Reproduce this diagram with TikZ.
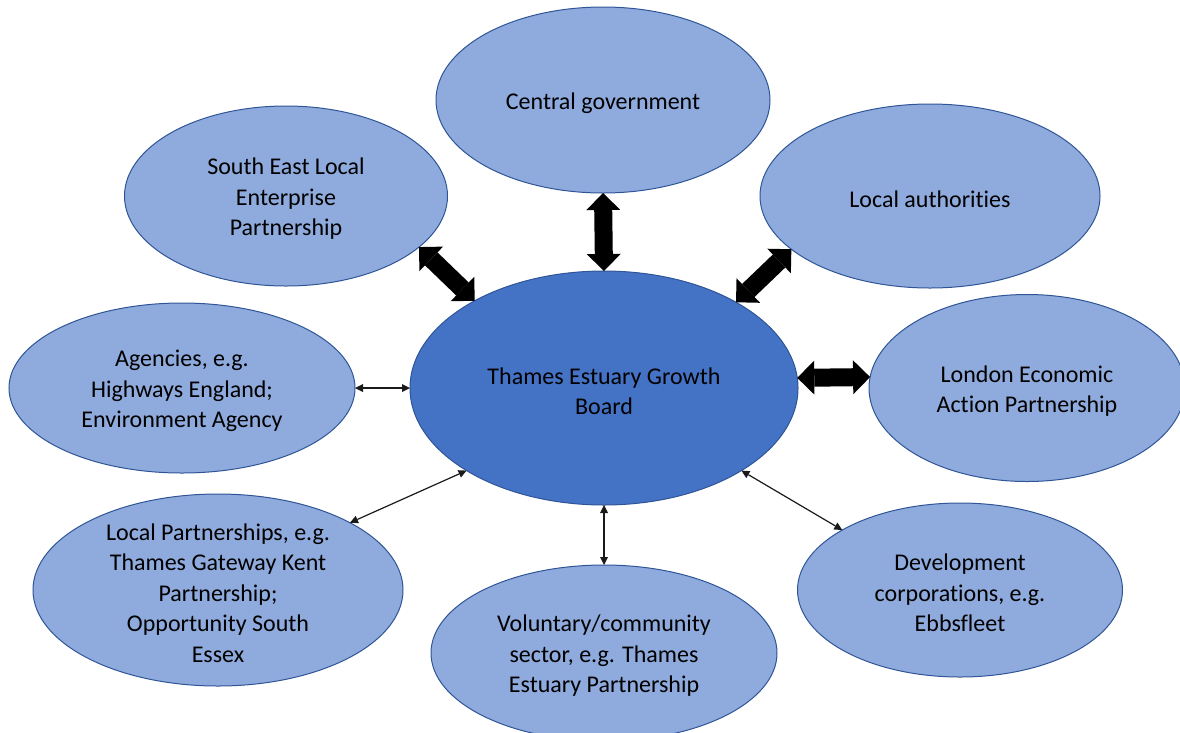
\documentclass[tikz,border=0pt]{standalone}
\usepackage{fontspec}
\setmainfont{Carlito}[Ligatures=NoCommon]
\usetikzlibrary{shapes.geometric,arrows.meta}

\definecolor{bubblefill}{HTML}{8FAADC}
\definecolor{hubfill}{HTML}{4472C4}
\definecolor{bubbleedge}{HTML}{2F5597}
\definecolor{thinline}{HTML}{1A1A1A}

\newcommand{\bubblefont}{\fontsize{24}{30.5}\selectfont}

\tikzset{
  bubble/.style={ellipse, draw=bubbleedge, fill=bubblefill, line width=1pt,
                 inner sep=0pt, outer sep=0pt},
  hub/.style={bubble, fill=hubfill},
  caption/.style={align=center, font=\bubblefont, text=black, inner sep=0pt, yshift=-3pt},
  bigarrow/.style={line width=18pt, draw=black,
                   {Triangle[length=17pt,width=34pt,line width=0pt]}-{Triangle[length=17pt,width=34pt,line width=0pt]}},
  smallarrow/.style={line width=1.2pt, draw=thinline,
                   {Triangle[length=8pt,width=8pt,line width=0pt]}-{Triangle[length=8pt,width=8pt,line width=0pt]}}
}

\begin{document}
\begin{tikzpicture}[x=1pt, y=-1pt]
  \useasboundingbox (0,0) rectangle (1180,732);
  \clip (0,0) rectangle (1180,732);

  % partner bodies
  \node[bubble, minimum width=334pt, minimum height=186pt] (cg)  at (603,100) {};
  \node[bubble, minimum width=323pt, minimum height=180pt] (se)  at (286,196) {};
  \node[bubble, minimum width=340pt, minimum height=184pt] (la)  at (930,196) {};
  \node[bubble, minimum width=346pt, minimum height=170pt] (ag)  at (182,388) {};
  \node[bubble, minimum width=316pt, minimum height=187pt] (lon) at (1027,388) {};
  \node[bubble, minimum width=370pt, minimum height=192pt] (lp)  at (218,590) {};
  \node[bubble, minimum width=346pt, minimum height=176pt] (vol) at (604,653) {};
  \node[bubble, minimum width=325pt, minimum height=174pt] (dev) at (960,590) {};

  % the board in the middle
  \node[hub, minimum width=388pt, minimum height=234pt] (tb) at (604,388) {};

  % captions
  \node[caption] (cg-t)  at (cg.center)  {Central government};
  \node[caption] (se-t)  at (se.center)  {South East Local\\Enterprise\\Partnership};
  \node[caption] (la-t)  at (la.center)  {Local authorities};
  \node[caption] (ag-t)  at (ag.center)  {Agencies, e.g.\\Highways England;\\Environment Agency};
  \node[caption] (lon-t) at (lon.center) {London Economic\\Action Partnership};
  \node[caption] (lp-t)  at (lp.center)  {Local Partnerships, e.g.\\Thames Gateway Kent\\Partnership;\\Opportunity South\\Essex};
  \node[caption] (vol-t) at (vol.center) {Voluntary/community\\sector, e.g. Thames\\Estuary Partnership};
  \node[caption] (dev-t) at (dev.center) {Development\\corporations, e.g.\\Ebbsfleet};
  \node[caption] (tb-t)  at (tb.center)  {Thames Estuary Growth\\Board};

  % strong two-way links
  \draw[bigarrow] (cg.south) -- (tb.north);
  \draw[bigarrow] (se.-21)   -- (tb.146);
  \draw[bigarrow] (la.-159)  -- (tb.33);
  \draw[bigarrow] (tb.3)     -- (lon.176);

  % lighter two-way links
  \draw[smallarrow] (ag.east)  -- (tb.west);
  \draw[smallarrow] (lp.27)    -- (tb.-149);
  \draw[smallarrow] (tb.south) -- (vol.north);
  \draw[smallarrow] (tb.-31)   -- (dev.153);
\end{tikzpicture}
\end{document}
